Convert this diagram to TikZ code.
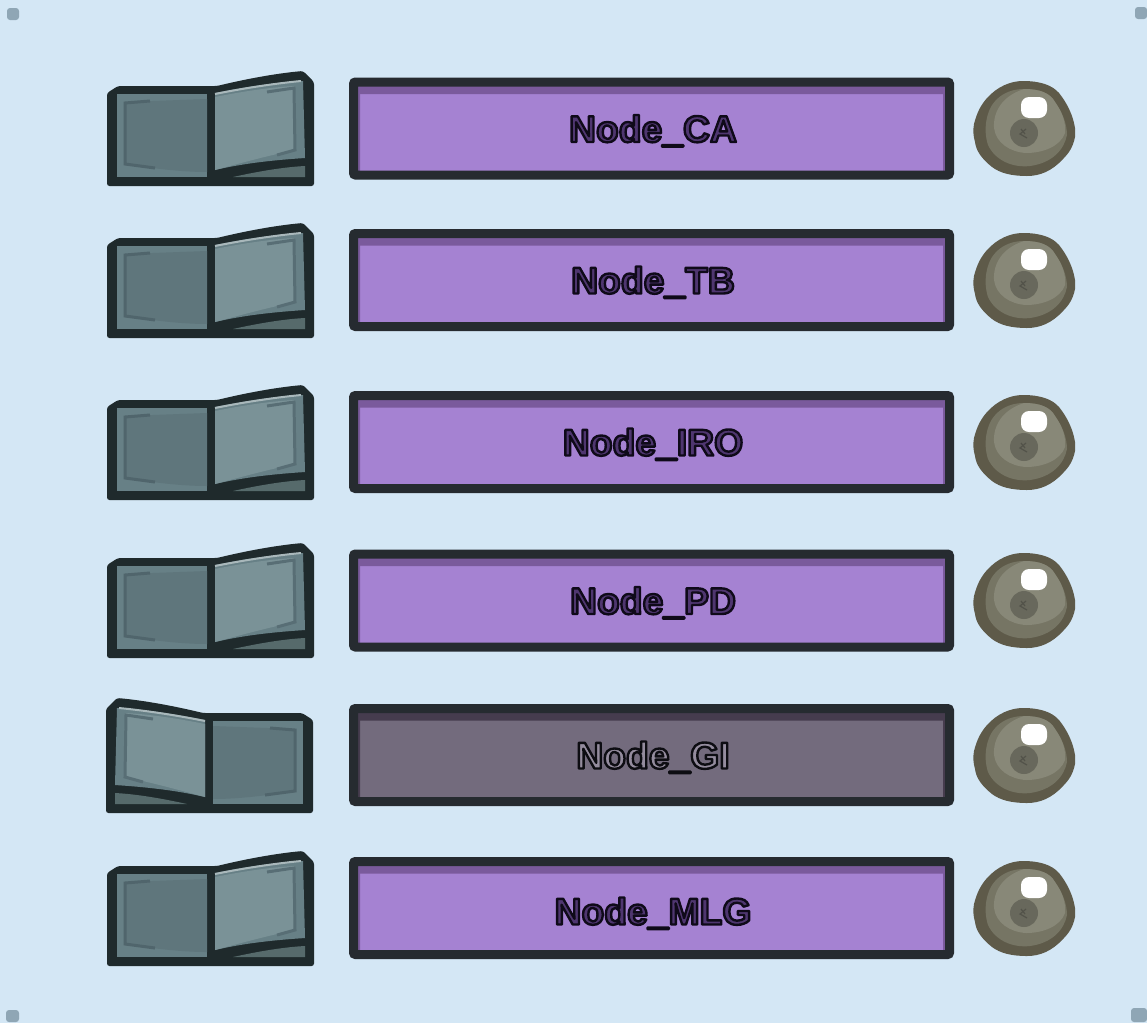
\documentclass[tikz,border=0pt]{standalone}
\usepackage{fontspec}
\setmainfont{Liberation Sans}
\usepackage{xcolor}
\usetikzlibrary{positioning}
\definecolor{skybg}{RGB}{212, 231, 245}
\definecolor{cornerdot}{RGB}{143, 166, 181}
\definecolor{barline}{RGB}{38, 43, 48}
\definecolor{baron}{RGB}{165, 130, 210}
\definecolor{barontop}{RGB}{122, 90, 156}
\definecolor{baroff}{RGB}{115, 107, 125}
\definecolor{barofftop}{RGB}{70, 60, 78}
\definecolor{switchline}{RGB}{31, 42, 44}
\definecolor{panelback}{RGB}{103, 128, 134}
\definecolor{paneldark}{RGB}{95, 118, 124}
\definecolor{panellight}{RGB}{122, 146, 151}
\definecolor{panelmark}{RGB}{80, 101, 108}
\definecolor{panelwedge}{RGB}{86, 106, 107}
\definecolor{ballrim}{RGB}{94, 90, 73}
\definecolor{ballmid}{RGB}{118, 117, 100}
\definecolor{balltop}{RGB}{136, 136, 120}
\definecolor{ballspot}{RGB}{104, 104, 92}
\newcommand{\labelon}[1]{\hspace*{3pt}\special{pdf:code q 2 Tr 1 j 2.4 w 0.06 0.04 0.1 RG 0.31 0.21 0.44 rg}#1\special{pdf:code Q}}
\newcommand{\labeloff}[1]{\hspace*{3pt}\special{pdf:code q 2 Tr 1 j 2.4 w 0.05 0.05 0.07 RG 0.58 0.55 0.62 rg}#1\special{pdf:code Q}}
\tikzset{
    barnode/.style={draw=barline, line width=9pt, rounded corners=2pt, minimum width=596pt, inner sep=0pt, font=\bfseries\fontsize{37.3}{40}\selectfont, text depth=0pt},
    baron/.style={barnode, fill=baron, path picture={
        \fill[barontop] (path picture bounding box.north west) rectangle ([yshift=-12pt]path picture bounding box.north east);
        \fill[barontop] (path picture bounding box.north west) rectangle ([xshift=6.5pt]path picture bounding box.south west);
        \fill[barontop] (path picture bounding box.north east) rectangle ([xshift=-6.5pt]path picture bounding box.south east);}},
    baroff/.style={barnode, fill=baroff, path picture={
        \fill[barofftop] (path picture bounding box.north west) rectangle ([yshift=-12pt]path picture bounding box.north east);
        \fill[barofftop] (path picture bounding box.north west) rectangle ([xshift=6.5pt]path picture bounding box.south west);
        \fill[barofftop] (path picture bounding box.north east) rectangle ([xshift=-6.5pt]path picture bounding box.south east);}},
    dotmark/.style={fill=cornerdot, rounded corners=3pt},
    pics/rocker/.style={code={
        % Body
        \fill[switchline, rounded corners=2.5pt] (107,186) -- (107,93) -- (118,86) -- (217,86) .. controls (250,78) and (280,73) .. (303,71) -- (314,82) -- (314,186) -- cycle;
        % Flat panel
        \fill[panelback] (117,94) rectangle (207,177);
        \fill[paneldark] (125,102) -- (207,99) -- (207,172) .. controls (180,172) and (150,168) .. (125,164) -- cycle;
        \draw[panelmark, line width=3pt] (150,101) -- (125,103) -- (125,164) -- (155,168);
        % Raised panel
        \fill[panelback] (215,93) .. controls (250,86) and (280,82) .. (303,81) -- (305,158) .. controls (275,160) and (245,163) .. (215,170) -- cycle;
        \fill[panellight] (215,97) .. controls (250,90) and (275,87) .. (295,86) -- (296,150) .. controls (270,155) and (245,162) .. (215,170) -- cycle;
        \draw[white!35!panellight, line width=2pt] (215,94) .. controls (250,87) and (280,83) .. (301,81);
        \draw[panelmark!80!panellight, line width=3pt] (267,92) -- (294,88) -- (295,150) -- (277,155);
        % Lower wedge
        \fill[panelwedge] (233,177) .. controls (260,171) and (285,167) .. (305,166) -- (305,177) -- cycle;
    }},
    pics/pebble/.style={code={
        \fill[ballrim] (1023,81) .. controls (1040,81) and (1052,85) .. (1059,93) .. controls (1067,103) and (1073,115) .. (1075,128) -- (1075,137) .. controls (1073,147) and (1069,153) .. (1063,159) .. controls (1052,171) and (1040,176) .. (1027,176) .. controls (1011,176) and (1000,173) .. (992,167) .. controls (982,159) and (976,151) .. (975,142) .. controls (973,135) and (973,130) .. (974,124) .. controls (977,112) and (981,105) .. (987,98) .. controls (997,87) and (1010,81) .. (1023,81) -- cycle;
        \fill[ballmid] (1024,89) .. controls (1040,89) and (1050,93) .. (1055,102) .. controls (1063,113) and (1067,125) .. (1067,135) .. controls (1064,150) and (1052,163) .. (1030,166) .. controls (1012,168) and (995,160) .. (988,145) .. controls (983,130) and (986,110) .. (996,100) .. controls (1004,92) and (1014,89) .. (1024,89) -- cycle;
        \fill[balltop] (1024,89) .. controls (1040,89) and (1050,93) .. (1055,102) .. controls (1062,112) and (1066,122) .. (1065,133) .. controls (1060,147) and (1042,153) .. (1026,153) .. controls (1010,152) and (996,143) .. (994,128) .. controls (993,112) and (1002,96) .. (1024,89) -- cycle;
        \fill[ballspot] (1024,133) circle (14);
        \draw[ballspot!80!black, line width=1.2pt] (1026,129) -- (1020,134) -- (1027,138) (1021,129) -- (1025,134);
        \fill[white, rounded corners=8pt] (1021,97) rectangle (1047,118);
    }}
}

\begin{document}
\begin{tikzpicture}[x=1pt, y=-1pt]
    \useasboundingbox (0,0) rectangle (1147,1023);
    % Background
    \fill[skybg] (0,0) rectangle (1147,1023);
    % Corner dots
    \fill[dotmark] (7,8) rectangle (19,20);
    \fill[dotmark] (1135,7) rectangle (1147,19);
    \fill[dotmark] (6,1010) rectangle (19,1022);
    \fill[dotmark] (1131,1008) rectangle (1147,1022);
    % Rows that are on
    \foreach \tag/\ypos/\ybar/\ydrop in {CA/0/128.5/0pt, TB/152/280/0pt, IRO/314/442/0pt, PD/472/600.5/0pt, MLG/780/908/-6pt} {
        \pic at (0,\ypos) {rocker};
        \node[baron, minimum height=93pt] (bar\tag) at (651.5,\ybar) {\raisebox{\ydrop}{\labelon{Node\_\tag}}};
        \pic at (0,\ypos) {pebble};
    }
    % Row that is off
    \pic[xscale=-1] at (420,627) {rocker};
    \node[baroff, minimum height=93pt] (barGI) at (651.5,755) {\labeloff{Node\_GI}};
    \pic at (0,627) {pebble};
\end{tikzpicture}
\end{document}
